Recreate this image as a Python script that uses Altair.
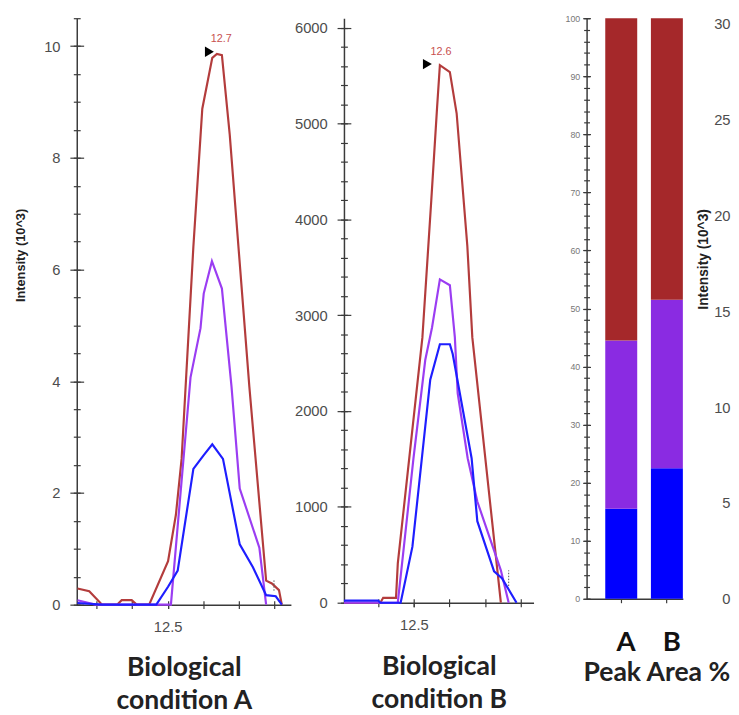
import altair as alt
import pandas as pd

SERIES = ["red", "purple", "blue"]
LINE_COLORS = ["#b33c3c", "#9b3df2", "#1e1eff"]
BAR_COLORS = ["#a5282a", "#8a2be2", "#0000ff"]

# ── Biological condition A: retention time (min) vs intensity (10^3) ──
a_red_t = [12.247, 12.280, 12.316, 12.358, 12.371, 12.399, 12.413, 12.448, 12.501, 12.523, 12.539,
           12.572, 12.597, 12.625, 12.638, 12.652, 12.674, 12.729, 12.776, 12.792, 12.812, 12.820]
a_red_v = [0.29, 0.24, 0.0, 0.0, 0.08, 0.08, 0.0, 0.0, 0.78, 1.61, 2.61,
           6.41, 8.88, 9.79, 9.86, 9.84, 8.41, 3.90, 0.43, 0.38, 0.26, 0.0]
a_purple_t = [12.247, 12.297, 12.509, 12.564, 12.592, 12.601, 12.624, 12.652, 12.679, 12.702, 12.757, 12.776]
a_purple_v = [0.08, 0.0, 0.0, 4.07, 4.95, 5.57, 6.15, 5.66, 3.90, 2.08, 1.02, 0.0]
a_blue_t = [12.247, 12.316, 12.468, 12.501, 12.528, 12.572, 12.600, 12.625, 12.655, 12.702, 12.739,
            12.776, 12.803, 12.820]
a_blue_v = [0.03, 0.0, 0.0, 0.32, 0.61, 2.43, 2.67, 2.87, 2.61, 1.08, 0.67, 0.17, 0.15, 0.0]

# ── Biological condition B: retention time (min) vs intensity ──
b_red_t = [12.304, 12.406, 12.414, 12.450, 12.455, 12.524, 12.549, 12.565, 12.573, 12.601, 12.620,
           12.650, 12.664, 12.744]
b_red_v = [0, 0, 51, 51, 410, 2769, 4205, 5159, 5610, 5538, 5108, 3723, 2769, 0]
b_purple_t = [12.304, 12.455, 12.499, 12.532, 12.551, 12.573, 12.601, 12.615, 12.623, 12.651, 12.678,
              12.744, 12.766]
b_purple_v = [0, 0, 1508, 2533, 2872, 3374, 3313, 2769, 2185, 1508, 1056, 338, 0]
b_blue_t = [12.304, 12.400, 12.406, 12.463, 12.496, 12.546, 12.573, 12.601, 12.609, 12.662, 12.678,
            12.725, 12.747, 12.788]
b_blue_v = [21, 21, 0, 0, 585, 2328, 2697, 2697, 2595, 1508, 851, 328, 256, 0]

# peak apex pointer + retention time label, integration end marker
peak_a = {"t": 12.617, "v": 9.90, "lt": 12.650, "lv": 10.12, "label": "12.7"}
peak_b = {"t": 12.538, "v": 5621, "lt": 12.576, "lv": 5744, "label": "12.6"}
marker_a = {"t": 12.798, "lo": 0.25, "hi": 0.45}
marker_b = {"t": 12.766, "lo": 174, "hi": 338}

# ── Peak area % ──
bar_cond = ["A", "A", "A", "B", "B", "B"]
bar_peak = ["blue", "purple", "red", "blue", "purple", "red"]
bar_pct = [15.5, 29.0, 55.5, 22.5, 29.0, 48.5]
bar_rank = [0, 1, 2, 0, 1, 2]

# ── Axis ticks ──
a_xticks = [12.3, 12.4, 12.5, 12.6, 12.7, 12.8]
b_xticks = [12.4, 12.5, 12.6, 12.7, 12.8]
a_major = [0, 2, 4, 6, 8, 10]
a_minor = [i * 0.5 for i in range(22)]
b_major = [0, 1000, 2000, 3000, 4000, 5000, 6000]
b_minor = list(range(0, 6001, 200))
bar_major = list(range(0, 101, 10))
bar_minor = list(range(0, 101, 2))
right_ticks = [0, 5, 10, 15, 20, 25, 30]

BOTTOM_TITLE = dict(titleFont="Lato", titleFontSize=27, titleFontWeight="bold", titleColor="#222")


def trace_frame(*series):
    rows = []
    for name, ts, vs in series:
        rows += [{"series": name, "t": t, "v": v} for t, v in zip(ts, vs)]
    return pd.DataFrame(rows)


def chromatogram(df, peak, marker, xdom, ydom, w, h, xticks, ymajor, yminor, title, ytitle=None, title_y=72):
    xs = alt.Scale(domain=xdom, zero=False, nice=False)
    ys = alt.Scale(domain=ydom, nice=False)

    y_main = dict(orient="left", values=ymajor, format="d", tickSize=7, labelPadding=10, title=None)
    if ytitle:
        y_main.update(title=ytitle, titleFontSize=13, titleFontWeight="bold", titleAngle=270,
                      titleX=-57, titleY=241, titleAlign="center", titleBaseline="middle")

    lines = alt.Chart(df).mark_line(strokeWidth=2.2).encode(
        x=alt.X("t:Q", scale=xs, axis=alt.Axis(
            orient="bottom", values=[12.5], format=".1f", tickSize=4, labelPadding=11,
            title=title, titleLineHeight=34, titleX=w / 2, titleY=title_y,
            titleAlign="center", titleBaseline="alphabetic", **BOTTOM_TITLE)),
        y=alt.Y("v:Q", scale=ys, axis=alt.Axis(**y_main)),
        color=alt.Color("series:N", scale=alt.Scale(domain=SERIES, range=LINE_COLORS), legend=None),
    )

    # invisible copies that only carry the crossing ticks
    ghost = alt.Chart(df).mark_line(opacity=0)
    inner = ghost.encode(
        x=alt.X("t:Q", scale=xs, axis=alt.Axis(orient="bottom", values=xticks, offset=-4, tickSize=8,
                                               domain=False, labels=False, title=None)),
        y=alt.Y("v:Q", scale=ys, axis=alt.Axis(orient="left", values=ymajor, offset=-7, tickSize=7,
                                               domain=False, labels=False, title=None)),
        detail="series:N",
    )
    minor = ghost.encode(
        x=alt.X("t:Q", scale=xs, axis=None),
        y=alt.Y("v:Q", scale=ys, axis=alt.Axis(orient="left", values=yminor, offset=-3.5, tickSize=7,
                                               domain=False, labels=False, title=None)),
        detail="series:N",
    )

    pk = pd.DataFrame([peak])
    pointer = alt.Chart(pk).mark_point(shape="triangle-right", filled=True, color="black",
                                       size=110, opacity=1).encode(
        x=alt.X("t:Q", scale=xs, axis=None),
        y=alt.Y("v:Q", scale=ys, axis=None),
    )
    label = alt.Chart(pk).mark_text(font="Liberation Sans", fontSize=11, color="#c8504f").encode(
        x=alt.X("lt:Q", scale=xs, axis=None),
        y=alt.Y("lv:Q", scale=ys, axis=None),
        text="label:N",
    )
    end_mark = alt.Chart(pd.DataFrame([marker])).mark_rule(
        color="#555", strokeWidth=1, strokeDash=[1.5, 1.5]).encode(
        x=alt.X("t:Q", scale=xs, axis=None),
        y=alt.Y("lo:Q", scale=ys, axis=None),
        y2="hi:Q",
    )

    return alt.layer(minor, inner, lines, end_mark, pointer, label).resolve_axis(
        x="independent", y="independent"
    ).properties(width=w, height=h)


df_a = trace_frame(("red", a_red_t, a_red_v), ("purple", a_purple_t, a_purple_v), ("blue", a_blue_t, a_blue_v))
df_b = trace_frame(("red", b_red_t, b_red_v), ("purple", b_purple_t, b_purple_v), ("blue", b_blue_t, b_blue_v))

panel_a = chromatogram(df_a, peak_a, marker_a, [12.245, 12.8455], [0, 10.5], 218, 597,
                       a_xticks, a_major, a_minor, ["Biological", "condition A"],
                       ytitle="Intensity (10^3)", title_y=72)
panel_b = chromatogram(df_b, peak_b, marker_b, [12.304, 12.8357], [0, 6100], 193, 595,
                       b_xticks, b_major, b_minor, ["Biological", "condition B"], title_y=73)

# ── Stacked peak-area bars ──
bar_df = pd.DataFrame({"cond": bar_cond, "peak": bar_peak, "pct": bar_pct, "rank": bar_rank})
# bars sit right of centre in the original: squeeze the band range, draw the full-width baseline separately
xb = alt.Scale(domain=["A", "B"], range=[19, 98], paddingInner=0.3, paddingOuter=0)
yb = alt.Scale(domain=[0, 100], nice=False)

bars = alt.Chart(bar_df).mark_bar().encode(
    x=alt.X("cond:N", scale=xb, axis=alt.Axis(
        orient="bottom", labelAngle=0, labelFont="Lato", labelFontSize=28, labelFontWeight="bold",
        labelColor="#111", labelPadding=27, labelOffset=5, tickSize=4, domain=False,
        title="Peak Area %", titleX=71, titleY=83, titleAlign="center", titleBaseline="alphabetic",
        **BOTTOM_TITLE)),
    y=alt.Y("pct:Q", stack="zero", scale=yb, axis=alt.Axis(
        orient="left", values=bar_major, tickSize=4, labelFontSize=9, labelPadding=3,
        labelColor="#777", title=None)),
    color=alt.Color("peak:N", scale=alt.Scale(domain=SERIES, range=BAR_COLORS), legend=None),
    order=alt.Order("rank:Q"),
)

bar_ghost = alt.Chart(bar_df).mark_bar(opacity=0)
bar_inner = bar_ghost.encode(
    x=alt.X("cond:N", axis=alt.Axis(orient="bottom", ticks=False, labels=False, title=None)),
    y=alt.Y("pct:Q", stack="zero", scale=yb, axis=alt.Axis(
        orient="left", values=bar_major, offset=-4, tickSize=4, domain=False, labels=False, title=None)),
    detail="peak:N",
)
bar_minor_ax = bar_ghost.encode(
    x=alt.X("cond:N", axis=None),
    y=alt.Y("pct:Q", stack="zero", scale=yb, axis=alt.Axis(
        orient="left", values=bar_minor, offset=-3, tickSize=6, domain=False, labels=False, title=None)),
    detail="peak:N",
)

# the next panel's intensity axis, cut off by the right edge
right_axis = alt.Chart(pd.DataFrame({"v": right_ticks})).mark_point(opacity=0).encode(
    y=alt.Y("v:Q", scale=alt.Scale(domain=[0, 30.3], nice=False), axis=alt.Axis(
        orient="right", values=right_ticks, offset=48, ticks=False, tickSize=0, domain=False,
        labelAlign="right", labelPadding=0, labelFontSize=15,
        title="Intensity (10^3)", titleFontSize=14, titleFontWeight="bold", titleAngle=270,
        titleX=-27, titleY=245, titleAlign="center", titleBaseline="middle")),
)

panel_c = alt.layer(bar_minor_ax, bar_inner, bars, right_axis).resolve_scale(
    x="independent", y="independent"
).resolve_axis(x="independent", y="independent").properties(width=98, height=591)

chart = alt.hconcat(panel_a, panel_b, panel_c, spacing=54, bounds="flush").resolve_scale(
    color="independent"
).properties(
    padding={"left": 7, "top": 0, "right": 0, "bottom": 0}
).configure_view(
    stroke=None
).configure_axis(
    grid=False,
    labelFont="Liberation Sans",
    labelFontSize=15,
    labelColor="#4d4d4d",
    titleFont="Liberation Sans",
    titleColor="#222",
    domainColor="#3a3a3a",
    tickColor="#3a3a3a",
    domainWidth=1.5,
    tickWidth=1.2,
)

chart.save("out.html", embed_options={"renderer": "svg", "actions": False})
print("Saved: out.html")
